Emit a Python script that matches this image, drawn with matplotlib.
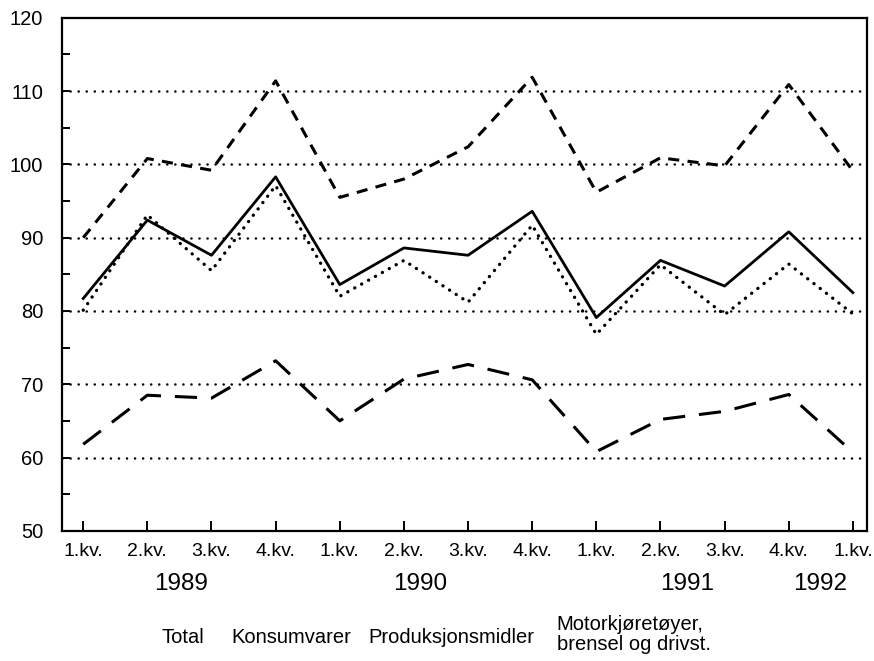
import numpy as np
import matplotlib
matplotlib.use('Agg')
import matplotlib.pyplot as plt

plt.rcParams['font.family'] = ['Liberation Sans', 'DejaVu Sans']
plt.rcParams['lines.scale_dashes'] = False

# quarters 1989 Q1 .. 1992 Q1
quarters = ['1.kv.', '2.kv.', '3.kv.', '4.kv.',
            '1.kv.', '2.kv.', '3.kv.', '4.kv.',
            '1.kv.', '2.kv.', '3.kv.', '4.kv.',
            '1.kv.']
years = ['1989', '1990', '1991', '1992']
year_pos = [1.53, 5.25, 9.41, 11.49]

total = [81.7, 92.4, 87.6, 98.3, 83.6, 88.6, 87.6, 93.6, 79.1, 86.9, 83.4, 90.8, 82.5]
konsum = [80.1, 93.1, 85.5, 97.1, 82.0, 86.9, 81.2, 91.7, 76.8, 86.3, 79.5, 86.4, 79.6]
produksjon = [90.0, 100.8, 99.2, 111.4, 95.5, 98.0, 102.4, 111.9, 96.2, 100.9, 99.8, 110.9, 99.1]
motor = [61.8, 68.5, 68.1, 73.2, 65.0, 70.7, 72.7, 70.6, 60.8, 65.2, 66.3, 68.6, 60.7]

legend_labels = ['Total', 'Konsumvarer', 'Produksjonsmidler',
                 'Motorkjøretøyer,\nbrensel og drivst.']

x = np.arange(len(quarters))

fig = plt.figure(figsize=(8.74, 6.61), dpi=100)
ax = fig.add_axes([0.071, 0.197, 0.921, 0.776])

# dotted gridlines
for g in [60, 70, 80, 90, 100, 110]:
    ax.axhline(g, color='black', lw=1.8, linestyle=(0, (0.1, 5.7)),
               dash_capstyle='round', zorder=1)

ax.plot(x, total, color='black', lw=2.0, zorder=3)
ax.plot(x, konsum, color='black', lw=2.4, linestyle=(0, (0.1, 5.6)),
        dash_capstyle='round', zorder=3)
ax.plot(x, produksjon, color='black', lw=2.2, linestyle=(0, (8, 6)), zorder=3)
ax.plot(x, motor, color='black', lw=2.2, linestyle=(0, (16, 10)), zorder=3)

ax.set_xlim(-0.33, 12.22)
ax.set_ylim(50, 120)
ax.set_yticks(np.arange(50, 121, 10))
ax.set_yticks(np.arange(55, 120, 10), minor=True)
ax.set_xticks(x)
ax.set_xticklabels(quarters)

for s in ax.spines.values():
    s.set_linewidth(1.6)

ax.tick_params(axis='y', which='both', direction='in', length=6, width=1.4,
               labelsize=14.5, pad=13.5)
ax.tick_params(axis='x', direction='in', length=7, width=1.4, labelsize=14, pad=9)

for yr, p in zip(years, year_pos):
    ax.text(p, -0.103, yr, transform=ax.get_xaxis_transform(), ha='center',
            va='center', fontsize=17.5)

# legend texts (no line samples in the original)
fig.text(0.209, 0.036, legend_labels[0], ha='center', va='center', fontsize=14.5)
fig.text(0.333, 0.036, legend_labels[1], ha='center', va='center', fontsize=14.5)
fig.text(0.517, 0.036, legend_labels[2], ha='center', va='center', fontsize=14.5)
fig.text(0.637, 0.040, legend_labels[3], ha='left', va='center', fontsize=14.5,
         linespacing=1.05)

fig.savefig('out.png', dpi=100)
